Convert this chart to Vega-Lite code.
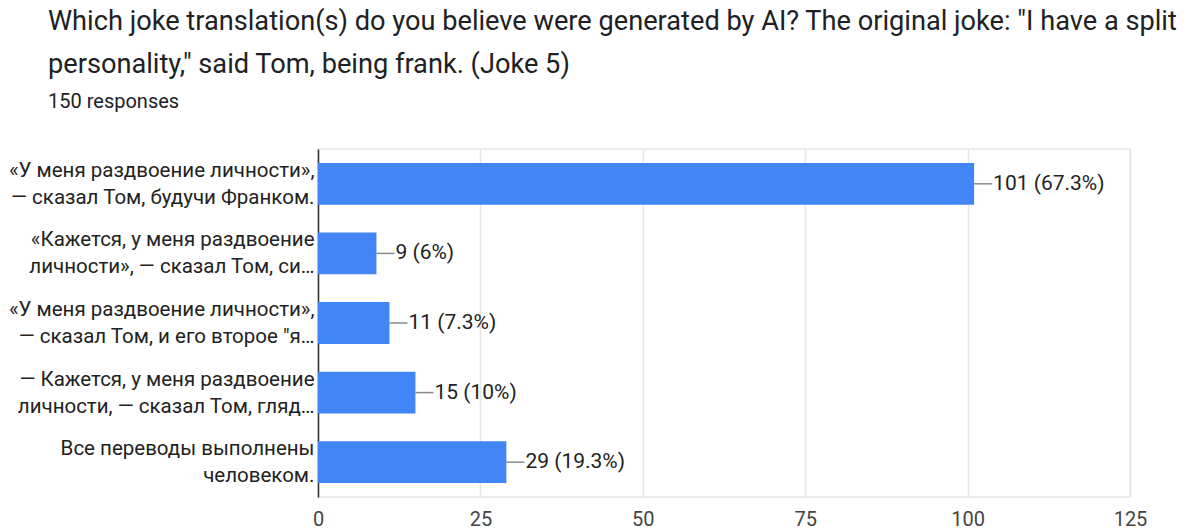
{
  "$schema": "https://vega.github.io/schema/vega-lite/v6.json",
  "width": 812,
  "height": 348,
  "autosize": {"type": "none"},
  "padding": {"left": 318, "top": 149, "right": 57, "bottom": 32},
  "background": "white",
  "title": {
    "text": ["Which joke translation(s) do you believe were generated by AI? The original joke: \"I have a split", "personality,\" said Tom, being frank. (Joke 5)"],
    "subtitle": "150 responses",
    "anchor": "start",
    "frame": "group",
    "dx": -270,
    "font": "Roboto",
    "fontSize": 27.2,
    "fontWeight": "normal",
    "color": "#202124",
    "lineHeight": 43,
    "subtitleFont": "Roboto",
    "subtitleFontSize": 20,
    "subtitleColor": "#202124",
    "subtitlePadding": 13,
    "offset": 36
  },
  "data": {
    "values": [
      {"answer": "«У меня раздвоение личности»,\n— сказал Том, будучи Франком.", "count": 101, "label": "101 (67.3%)"},
      {"answer": "«Кажется, у меня раздвоение\nличности», — сказал Том, си…", "count": 9, "label": "9 (6%)"},
      {"answer": "«У меня раздвоение личности»,\n— сказал Том, и его второе \"я…", "count": 11, "label": "11 (7.3%)"},
      {"answer": "— Кажется, у меня раздвоение\nличности, — сказал Том, гляд…", "count": 15, "label": "15 (10%)"},
      {"answer": "Все переводы выполнены\nчеловеком.", "count": 29, "label": "29 (19.3%)"}
    ]
  },
  "encoding": {
    "y": {
      "field": "answer",
      "type": "nominal",
      "sort": null,
      "title": null,
      "scale": {"paddingInner": 0.4, "paddingOuter": 0.2},
      "axis": {
        "labelExpr": "split(datum.label, '\\n')",
        "labelFont": "Roboto",
        "labelFontSize": 20.5,
        "labelLineHeight": 27,
        "labelOffset": -13,
        "labelColor": "#222222",
        "labelPadding": 4,
        "labelLimit": 400,
        "ticks": false,
        "domainColor": "#333333",
        "domainWidth": 1.5
      }
    }
  },
  "layer": [
    {
      "mark": {"type": "bar", "color": "#4285f4"},
      "encoding": {
        "x": {
          "field": "count",
          "type": "quantitative",
          "title": null,
          "scale": {"domain": [0, 125], "nice": false},
          "axis": {
            "values": [0, 25, 50, 75, 100, 125],
            "labelFont": "Roboto",
            "labelFontSize": 20,
            "labelColor": "#444444",
            "labelPadding": 12,
            "labelFlush": false,
            "ticks": false,
            "domain": false,
            "gridColor": "#e6e6e6",
            "gridWidth": 1.5
          }
        }
      }
    },
    {
      "mark": {"type": "rule", "color": "#888888", "strokeWidth": 1.5, "x2Offset": 18},
      "encoding": {
        "x": {"field": "count", "type": "quantitative"},
        "x2": {"field": "count"}
      }
    },
    {
      "mark": {"type": "text", "align": "left", "dx": 19, "font": "Roboto", "fontSize": 21, "color": "#222222"},
      "encoding": {
        "x": {"field": "count", "type": "quantitative"},
        "text": {"field": "label"}
      }
    }
  ],
  "config": {
    "view": {"stroke": "#e6e6e6", "strokeWidth": 1.5}
  }
}
